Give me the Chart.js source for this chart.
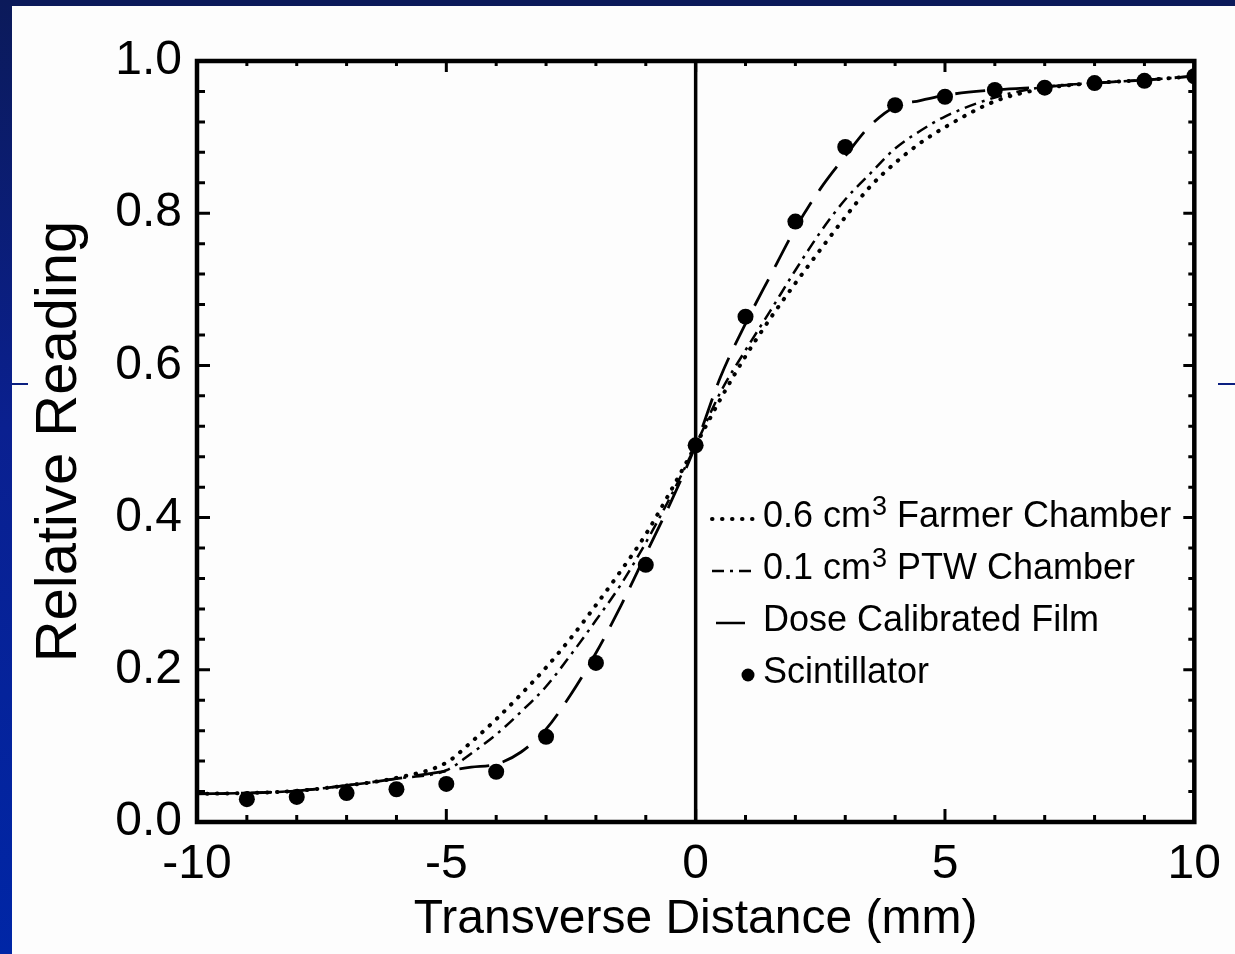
<!DOCTYPE html>
<html>
<head>
<meta charset="utf-8">
<script src="https://cdn.jsdelivr.net/npm/chart.js@4.4.1/dist/chart.umd.min.js"></script>
<style>
  html, body { margin: 0; padding: 0; background: #fff; }
  #wrap { position: relative; width: 1235px; height: 954px; overflow: hidden; background: #fdfdfd; }
  #top { position: absolute; left: 0; top: 0; width: 1235px; height: 6px; background: #0b1a5a; }
  #left { position: absolute; left: 0; top: 0; width: 12px; height: 954px;
          background: linear-gradient(#0b1a5a, #0a2090 45%, #0026a6); }
  .tick { position: absolute; top: 383px; height: 2px; background: #0b1f80; }
  #c { position: absolute; left: 0; top: 0; }
</style>
</head>
<body>
<div id="wrap">
  <div id="top"></div>
  <div id="left"></div>
  <div class="tick" style="left:12px;width:16px"></div>
  <div class="tick" style="left:1218px;width:17px"></div>
  <canvas id="c" width="1235" height="954"></canvas>
</div>
<script>
// ---- data ----
const curveX = [-10, -9, -8, -7, -6, -5, -4.5, -4, -3.5, -3, -2.5, -2, -1.5, -1, -0.5, 0,
                0.5, 1, 1.5, 2, 2.5, 3, 3.5, 4, 4.5, 5, 6, 7, 8, 9, 10];
const farmer = [0.037, 0.038, 0.041, 0.048, 0.058, 0.078, 0.105, 0.135, 0.168, 0.203, 0.242, 0.285, 0.330, 0.378, 0.435, 0.495,
                0.556, 0.612, 0.662, 0.708, 0.752, 0.795, 0.835, 0.866, 0.892, 0.913, 0.947, 0.964, 0.971, 0.975, 0.980];
const ptw =    [0.037, 0.038, 0.041, 0.048, 0.057, 0.068, 0.090, 0.115, 0.145, 0.178, 0.220, 0.265, 0.312, 0.367, 0.428, 0.495,
                0.565, 0.620, 0.672, 0.725, 0.775, 0.818, 0.852, 0.885, 0.908, 0.927, 0.952, 0.966, 0.971, 0.975, 0.980];
const film =   [0.037, 0.038, 0.041, 0.048, 0.057, 0.067, 0.072, 0.076, 0.092, 0.122, 0.168, 0.222, 0.284, 0.352, 0.420, 0.495,
                0.585, 0.655, 0.718, 0.780, 0.832, 0.875, 0.915, 0.940, 0.948, 0.955, 0.962, 0.966, 0.971, 0.975, 0.980];

const scintX = [-9, -8, -7, -6, -5, -4, -3, -2, -1, 0, 1, 2, 3, 4, 5, 6, 7, 8, 9, 10];
const scint =  [0.030, 0.033, 0.038, 0.043, 0.050, 0.066, 0.112, 0.209, 0.338, 0.495,
                0.664, 0.789, 0.887, 0.942, 0.953, 0.962, 0.965, 0.971, 0.974, 0.980];

const xTicks = [-10, -5, 0, 5, 10];
const yTicks = [0.0, 0.2, 0.4, 0.6, 0.8, 1.0];

const legendItems = [
  { pre: "0.6 cm", sup: "3", post: " Farmer Chamber", kind: "dot" },
  { pre: "0.1 cm", sup: "3", post: " PTW Chamber", kind: "dashdot" },
  { pre: "Dose Calibrated Film", sup: "", post: "", kind: "dash" },
  { pre: "Scintillator", sup: "", post: "", kind: "point" },
];

const FONT = "'Liberation Sans', Arial, sans-serif";
const DASH = { dot: [0.5, 9.5], dashdot: [12, 6, 3, 6], dash: [30, 14] };

function pts(xs, ys) {
  return xs.map((x, i) => ({ x: x, y: ys[i] }));
}

// frame, inward ticks, zero line
const framePlugin = {
  id: "frame",
  beforeDatasetsDraw(chart) {
    const { ctx, chartArea: a, scales: { x, y } } = chart;
    ctx.save();
    ctx.strokeStyle = "#000";
    ctx.lineCap = "butt";

    ctx.lineWidth = 3;
    for (let v = -9; v <= 9; v++) {
      const px = x.getPixelForValue(v);
      const len = v % 5 === 0 ? 13 : 7;
      ctx.beginPath();
      ctx.moveTo(px, a.bottom); ctx.lineTo(px, a.bottom - len);
      ctx.moveTo(px, a.top); ctx.lineTo(px, a.top + len - 2);
      ctx.stroke();
    }
    for (let k = 1; k < 25; k++) {
      const v = k * 0.04;
      const py = y.getPixelForValue(v);
      const len = k % 5 === 0 ? 13 : 8;
      ctx.beginPath();
      ctx.moveTo(a.left, py); ctx.lineTo(a.left + len, py);
      ctx.moveTo(a.right, py); ctx.lineTo(a.right - len + 2, py);
      ctx.stroke();
    }

    ctx.lineWidth = 4.5;
    ctx.strokeRect(a.left, a.top, a.right - a.left, a.bottom - a.top);

    const zx = x.getPixelForValue(0);
    ctx.lineWidth = 3.5;
    ctx.beginPath();
    ctx.moveTo(zx, a.top); ctx.lineTo(zx, a.bottom);
    ctx.stroke();
    ctx.restore();
  },
};

// legend inside the plot, with superscripts
const legendPlugin = {
  id: "innerLegend",
  afterDraw(chart) {
    const { ctx } = chart;
    const x0 = 712, y0 = 517, rowH = 52, textX = 763;
    ctx.save();
    legendItems.forEach((it, i) => {
      const yy = y0 + i * rowH;
      ctx.strokeStyle = "#000";
      ctx.fillStyle = "#000";
      if (it.kind === "point") {
        ctx.beginPath();
        ctx.arc(748, yy + 2, 6.5, 0, Math.PI * 2);
        ctx.fill();
      } else {
        ctx.lineWidth = it.kind === "dot" ? 4 : 2.5;
        ctx.lineCap = it.kind === "dot" ? "round" : "butt";
        ctx.setLineDash(DASH[it.kind]);
        ctx.beginPath();
        const x1 = it.kind === "dash" ? 716 : x0;
        ctx.moveTo(x1, yy + 2);
        ctx.lineTo(it.kind === "dash" ? 745 : 754, yy + 2);
        ctx.stroke();
        ctx.setLineDash([]);
      }
      ctx.textBaseline = "middle";
      ctx.textAlign = "left";
      ctx.font = "36px " + FONT;
      let tx = textX;
      ctx.fillText(it.pre, tx, yy);
      tx += ctx.measureText(it.pre).width;
      if (it.sup) {
        ctx.font = "27px " + FONT;
        ctx.fillText(it.sup, tx + 1, yy - 9);
        tx += ctx.measureText(it.sup).width + 1;
        ctx.font = "36px " + FONT;
        ctx.fillText(it.post, tx, yy);
      }
    });
    ctx.restore();
  },
};

const curveStyle = {
  showLine: true,
  pointRadius: 0,
  borderColor: "#000",
  cubicInterpolationMode: "monotone",
  fill: false,
};

new Chart(document.getElementById("c"), {
  type: "scatter",
  data: {
    datasets: [
      Object.assign({}, curveStyle, {
        label: "0.6 cm3 Farmer Chamber",
        data: pts(curveX, farmer),
        borderWidth: 4, borderDash: DASH.dot, borderCapStyle: "round",
      }),
      Object.assign({}, curveStyle, {
        label: "0.1 cm3 PTW Chamber",
        data: pts(curveX, ptw),
        borderWidth: 2.5, borderDash: DASH.dashdot,
      }),
      Object.assign({}, curveStyle, {
        label: "Dose Calibrated Film",
        data: pts(curveX, film),
        borderWidth: 2.8, borderDash: DASH.dash,
      }),
      {
        label: "Scintillator",
        data: pts(scintX, scint),
        showLine: false,
        pointRadius: 8,
        pointBackgroundColor: "#000",
        pointBorderWidth: 0,
      },
    ],
  },
  options: {
    responsive: false,
    animation: false,
    layout: { padding: { top: 61, right: 40, left: 0, bottom: 0 } },
    plugins: { legend: { display: false }, tooltip: { enabled: false } },
    scales: {
      x: {
        type: "linear", min: -10, max: 10,
        afterFit: (s) => { s.height = 132; },
        afterBuildTicks: (s) => { s.ticks = xTicks.map((v) => ({ value: v })); },
        grid: { display: false, drawTicks: false },
        border: { display: false },
        ticks: { color: "#000", padding: 14, font: { family: FONT, size: 48 }, maxRotation: 0 },
        title: {
          display: true, text: "Transverse Distance (mm)", color: "#000",
          font: { family: FONT, size: 48, lineHeight: 1 }, padding: { top: 0, bottom: 10 },
        },
      },
      y: {
        type: "linear", min: 0, max: 1,
        afterFit: (s) => { s.width = 197; },
        afterBuildTicks: (s) => { s.ticks = yTicks.map((v) => ({ value: v })); },
        grid: { display: false, drawTicks: false },
        border: { display: false },
        ticks: { color: "#000", padding: 15, font: { family: FONT, size: 48 },
                 callback: (v) => v.toFixed(1) },
        title: {
          display: true, text: "Relative Reading", color: "#000",
          font: { family: FONT, size: 58, lineHeight: 1 }, padding: { top: 31, bottom: 0 },
        },
      },
    },
  },
  plugins: [framePlugin, legendPlugin],
});
</script>
</body>
</html>
